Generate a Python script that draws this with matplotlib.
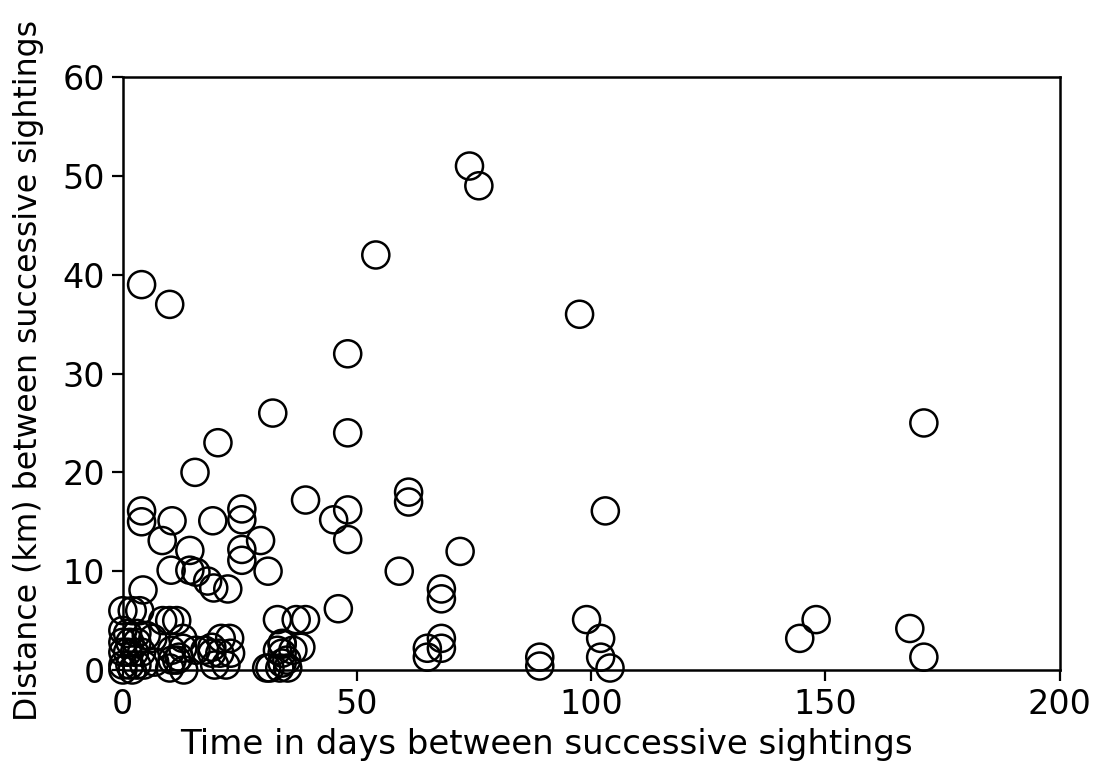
import numpy as np
from matplotlib import pyplot as plt

# time (days) and distance (km) between successive sightings
days = [74, 76, 54, 4, 10, 97.5, 48, 32, 171, 48, 20.3, 15.4,
        61, 61, 39, 4, 4, 103, 48, 25.4, 25.4, 45, 10.5, 19.2,
        48, 72, 14.3, 25.4, 25.4, 29.4, 8.4, 31, 59, 10.3, 14.3, 15.6,
        18.1, 19.4, 22.4, 4.3, 68, 68, 99, 148, 144.5, 168, 171,
        102, 102, 104, 89, 89, 46, 68, 68, 65, 65,
        33, 37, 39, 34, 33, 36.3, 31.4, 33.5, 35.2, 35, 38,
        0, 2, 3.6, 0, 1, 3, 5, 0, 1.5, 3, 0, 1, 2.5, 4, 0, 1.5, 3, 4.5,
        0, 2, 6.4, 6.8, 8.5, 10, 11.5, 10.4, 11.5, 13, 12.8, 12.8, 12, 10.5, 10,
        15.6, 17.5, 19, 21, 22.8, 19, 20.7, 23, 19.6, 22, 30.7, 34, 34, 34]
dist = [51, 49, 42, 39, 37, 36, 32, 26, 25, 24, 23, 20,
        18, 17, 17.2, 16.1, 15, 16.1, 16.2, 16.3, 15.2, 15.2, 15.1, 15.1,
        13.2, 12, 12.1, 12.2, 11.1, 13.1, 13.1, 10, 10, 10.1, 10.1, 9.9,
        9, 8.3, 8.2, 8.1, 8.2, 7.2, 5.1, 5.1, 3.2, 4.2, 1.3,
        3.2, 1.3, 0.2, 1.3, 0.4, 6.2, 3.2, 2.2, 2.2, 1.3,
        5.1, 5.1, 5.1, 2.6, 2, 2, 0.2, 0.2, 0.2, 1, 2.3,
        6, 6, 6, 4, 3.7, 3.7, 3.5, 2.8, 2.8, 2.8, 1.8, 1.8, 1.8, 1.8, 0.5, 0.5, 0.5, 0.5,
        0, 0, 3.2, 0.8, 5, 5, 5, 2, 1, 0, 3.2, 2.2, 1.3, 1, 0.2,
        2, 2, 2.3, 3.2, 3.2, 1.7, 1.7, 1.7, 0.5, 0.5, 0.2, 2.7, 1.7, 0.7]

plt.rcParams['font.family'] = ['DejaVu Sans']

fig = plt.figure(figsize=(10.97, 7.71), dpi=100)
ax = fig.add_axes([0.112, 0.131, 0.854, 0.769])

ax.scatter(days, dist, s=380, facecolors='none', edgecolors='black',
           linewidths=1.8, clip_on=False, zorder=3)

ax.set_xlim(0, 200)
ax.set_ylim(0, 60)
ax.set_xticks([0, 50, 100, 150, 200])
ax.set_yticks([0, 10, 20, 30, 40, 50, 60])
for sp in ax.spines.values():
    sp.set_linewidth(1.8)
ax.tick_params(direction='out', length=8, width=1.6, labelsize=24, pad=5)
ax.set_xlabel('Time in days between successive sightings', fontsize=24.5)
ax.set_ylabel('Distance (km) between successive sightings', fontsize=22.7)
ax.xaxis.set_label_coords(0.452, -0.098)
ax.yaxis.set_label_coords(-0.084, 0.505)

plt.savefig('out.png', dpi=100)
